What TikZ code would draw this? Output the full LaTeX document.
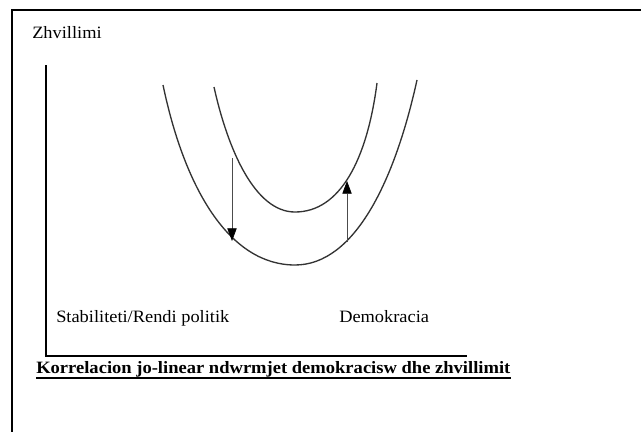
\documentclass[tikz,border=0pt]{standalone}
\usepackage{fontspec}
\usepackage{graphicx}
\setmainfont{Liberation Serif}
\usetikzlibrary{arrows.meta}
\newcommand\hstr[1]{\scalebox{1.06}[1]{#1}}
\newcommand\hstrb[1]{\scalebox{1.07}[1]{#1}}
\begin{document}
\begin{tikzpicture}[x=0.75pt,y=-0.75pt,
  frame/.style={line width=1.5pt,black},
  axisline/.style={line width=1.2pt,black},
  curveline/.style={line width=1pt,black!80},
  arr/.style={line width=0.5pt,black!70,-{Triangle[length=9.5pt,width=7pt,black]}},
  lbl/.style={inner sep=0pt,anchor=base west,font=\fontsize{13pt}{15pt}\selectfont},
  ttl/.style={inner sep=0pt,anchor=base west,font=\fontsize{13pt}{15pt}\selectfont\bfseries},
  ul/.style={line width=1.2pt,black}]
\useasboundingbox (0,0) rectangle (641,432);
\fill[white] (0,0) rectangle (641,432);
\draw[frame] (641,10) -- (12,10) -- (12,432);
\coordinate (ytop) at (46,65);
\coordinate (orig) at (46,356);
\coordinate (xend) at (467,356);
\draw[axisline] (ytop) -- (orig) -- (xend);
\node[lbl] (zh) at (32,38) {\hstr{Zhvillimi}};
\node[lbl] (stab) at (56,322) {\hstr{Stabiliteti/Rendi politik}};
\node[lbl] (dem) at (339,322) {\hstr{Demokracia}};
\node[ttl] (title) at (36,373) {\hstrb{Korrelacion jo-linear ndwrmjet demokracisw dhe zhvillimit}};
\draw[ul] ([yshift=-3.6pt]title.base west) -- ([yshift=-3.6pt]title.base east);
\draw[curveline] (163,85) .. controls (185,190) and (230,265) .. (295,265)
  .. controls (355,265) and (395,180) .. (417,80);
\draw[curveline] (214,87) .. controls (228,150) and (255,212) .. (295,212)
  .. controls (340,212) and (367,160) .. (377,83);
\coordinate (d1) at (232,158);
\coordinate (d2) at (232,241);
\coordinate (u1) at (347,242);
\coordinate (u2) at (347,181);
\draw[arr] (d1) -- (d2);
\draw[arr] (u1) -- (u2);
\end{tikzpicture}
\end{document}
